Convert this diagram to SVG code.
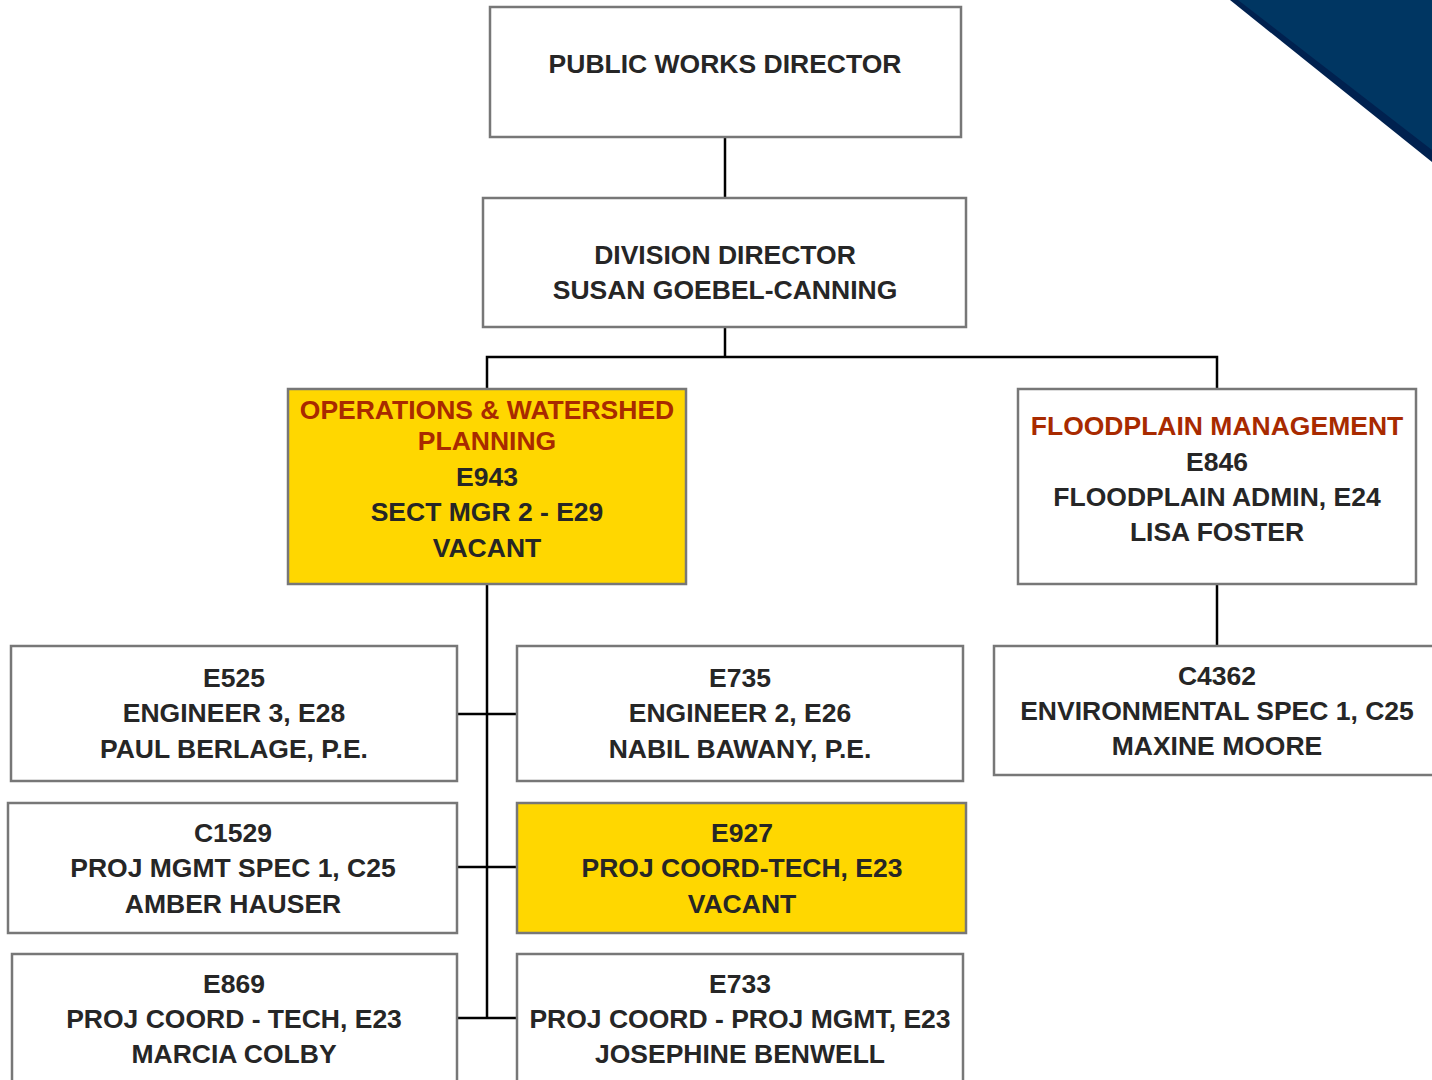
<svg xmlns="http://www.w3.org/2000/svg" width="1432" height="1080" viewBox="0 0 1432 1080">
<style>
.box{fill:#ffffff;stroke:#777777;stroke-width:2.5}
.gold{fill:#FFD700;stroke:#777777;stroke-width:2.5}
.t{font-family:"Liberation Sans",Arial,sans-serif;font-weight:bold;font-size:26.5px;fill:#262626;text-anchor:middle}
.r{fill:#A82A00}
.c{stroke:#000000;stroke-width:2.5;fill:none}
</style>
<rect width="1432" height="1080" fill="#ffffff"/>
<g id="corner">
<polygon points="1230,0 1432,0 1432,162" fill="#00214f"/>
<polygon points="1238,0 1432,0 1432,150" fill="#003662"/>
</g>
<g id="connectors">
<line class="c" x1="725" y1="137" x2="725" y2="198"/>
<line class="c" x1="725" y1="327" x2="725" y2="357"/>
<polyline class="c" points="487,389 487,357 1217,357 1217,389"/>
<line class="c" x1="487" y1="584" x2="487" y2="1018"/>
<line class="c" x1="457" y1="714" x2="517" y2="714"/>
<line class="c" x1="457" y1="867" x2="517" y2="867"/>
<line class="c" x1="457" y1="1018" x2="517" y2="1018"/>
<line class="c" x1="1217" y1="584" x2="1217" y2="646"/>
</g>
<g id="pwd">
<rect class="box" x="490" y="7" width="471" height="130"/>
<text class="t" x="725" y="73">PUBLIC WORKS DIRECTOR</text>
</g>
<g id="division">
<rect class="box" x="483" y="198" width="483" height="129"/>
<text class="t" x="725" y="264">DIVISION DIRECTOR</text>
<text class="t" x="725" y="299">SUSAN GOEBEL-CANNING</text>
</g>
<g id="ops">
<rect class="gold" x="288" y="389" width="398" height="195"/>
<text class="t r" x="487" y="419">OPERATIONS &amp; WATERSHED</text>
<text class="t r" x="487" y="450">PLANNING</text>
<text class="t" x="487" y="486">E943</text>
<text class="t" x="487" y="521">SECT MGR 2 - E29</text>
<text class="t" x="487" y="557">VACANT</text>
</g>
<g id="floodplain">
<rect class="box" x="1018" y="389" width="398" height="195"/>
<text class="t r" x="1217" y="435">FLOODPLAIN MANAGEMENT</text>
<text class="t" x="1217" y="471">E846</text>
<text class="t" x="1217" y="506">FLOODPLAIN ADMIN, E24</text>
<text class="t" x="1217" y="541">LISA FOSTER</text>
</g>
<g id="e525">
<rect class="box" x="11" y="646" width="446" height="135"/>
<text class="t" x="234" y="687">E525</text>
<text class="t" x="234" y="722">ENGINEER 3, E28</text>
<text class="t" x="234" y="758">PAUL BERLAGE, P.E.</text>
</g>
<g id="e735">
<rect class="box" x="517" y="646" width="446" height="135"/>
<text class="t" x="740" y="687">E735</text>
<text class="t" x="740" y="722">ENGINEER 2, E26</text>
<text class="t" x="740" y="758">NABIL BAWANY, P.E.</text>
</g>
<g id="c4362">
<rect class="box" x="994" y="646" width="450" height="129"/>
<text class="t" x="1217" y="685">C4362</text>
<text class="t" x="1217" y="720">ENVIRONMENTAL SPEC 1, C25</text>
<text class="t" x="1217" y="755">MAXINE MOORE</text>
</g>
<g id="c1529">
<rect class="box" x="8" y="803" width="449" height="130"/>
<text class="t" x="233" y="842">C1529</text>
<text class="t" x="233" y="877">PROJ MGMT SPEC 1, C25</text>
<text class="t" x="233" y="913">AMBER HAUSER</text>
</g>
<g id="e927">
<rect class="gold" x="517" y="803" width="449" height="130"/>
<text class="t" x="742" y="842">E927</text>
<text class="t" x="742" y="877">PROJ COORD-TECH, E23</text>
<text class="t" x="742" y="913">VACANT</text>
</g>
<g id="e869">
<rect class="box" x="12" y="954" width="445" height="140"/>
<text class="t" x="234" y="993">E869</text>
<text class="t" x="234" y="1028">PROJ COORD - TECH, E23</text>
<text class="t" x="234" y="1063">MARCIA COLBY</text>
</g>
<g id="e733">
<rect class="box" x="517" y="954" width="446" height="140"/>
<text class="t" x="740" y="993">E733</text>
<text class="t" x="740" y="1028">PROJ COORD - PROJ MGMT, E23</text>
<text class="t" x="740" y="1063">JOSEPHINE BENWELL</text>
</g>
</svg>
